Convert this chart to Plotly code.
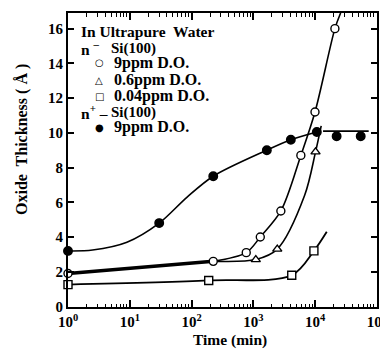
import plotly.graph_objects as go

# ---------------- data ----------------
# n- Si(100), 9 ppm D.O. (open circles)
t_n9 = [1, 225, 770, 1300, 2800, 5900, 10000, 21000]
y_n9 = [1.9, 2.6, 3.1, 4.0, 5.5, 8.7, 11.2, 16.0]
# n- Si(100), 0.6 ppm D.O. (open triangles)
t_n06 = [1100, 2450, 10200]
y_n06 = [2.7, 3.3, 8.9]
# n- Si(100), 0.04 ppm D.O. (open squares)
t_n004 = [1, 190, 4200, 9600]
y_n004 = [1.26, 1.5, 1.8, 3.2]
# n+ Si(100), 9 ppm D.O. (filled circles)
t_p9 = [1, 30, 225, 1660, 4060, 10700, 22400, 55000]
y_p9 = [3.2, 4.8, 7.5, 9.0, 9.6, 10.05, 9.8, 9.8]

# traced guide curves (hand drawn in the original)
curve_shared_t = [1, 225]
curve_shared_y = [1.9, 2.6]
curve_n9_t = [225, 770, 1300, 2800, 5900, 10000, 21000, 26000]
curve_n9_y = [2.6, 3.1, 4.0, 5.5, 8.7, 11.2, 16.0, 16.9]
curve_n06_t = [225, 1100, 2450, 6800, 10200, 12600]
curve_n06_y = [2.6, 2.7, 3.3, 6.4, 8.9, 10.4]
curve_n004_t = [1, 190, 4200, 9600, 15500]
curve_n004_y = [1.26, 1.5, 1.8, 3.2, 4.3]
curve_p9_t = [1, 2.5, 9, 30, 85, 225, 1660, 4060, 10700]
curve_p9_y = [3.2, 3.25, 3.7, 4.8, 6.3, 7.5, 9.0, 9.6, 10.05]
plateau_t = [13500, 74000]
plateau_y = [10.1, 10.1]

x_tickvals = [1, 10, 100, 1000, 10000, 100000]
x_ticktext = ["10<sup>0</sup>", "10<sup>1</sup>", "10<sup>2</sup>",
              "10<sup>3</sup>", "10<sup>4</sup>", "10<sup>5</sup>"]
x_minor = [m * 10 ** d for d in range(5) for m in range(2, 10)]
y_tickvals = [0, 2, 4, 6, 8, 10, 12, 14, 16]

legend_rows = [
    ("○", "9ppm D.O."),
    ("△", "0.6ppm D.O."),
    ("□", "0.04ppm D.O."),
    ("●", "9ppm D.O."),
]

# ---------------- figure ----------------
SERIF = "Liberation Serif"
fig = go.Figure()

def line(t, y, w=1.6):
    fig.add_trace(go.Scatter(x=t, y=y, mode="lines",
                             line=dict(color="black", width=w, shape="spline", smoothing=0.9),
                             hoverinfo="skip", showlegend=False, cliponaxis=True))

line(curve_shared_t, curve_shared_y, 3.6)
line(curve_n9_t, curve_n9_y)
line(curve_n06_t, curve_n06_y)
line(curve_n004_t, curve_n004_y, 1.8)
line(curve_p9_t, curve_p9_y)
line(plateau_t, plateau_y, 1.8)

def markers(t, y, symbol, fill, size=8):
    fig.add_trace(go.Scatter(x=t, y=y, mode="markers",
                             marker=dict(symbol=symbol, size=size, color=fill,
                                         line=dict(color="black", width=1.4)),
                             showlegend=False, cliponaxis=False))

markers(t_n9, y_n9, "circle", "white")
markers(t_n06, y_n06, "triangle-up", "white", 8)
markers(t_n004, y_n004, "square", "white", 8)
markers(t_p9, y_p9, "circle", "black", 8.5)

W, H = 380, 349
L, R, T, B = 68, 3, 13, 42
pw, ph = W - L - R, H - T - B

def px(x):
    return (x - L) / pw

def py(y):
    return (H - B - y) / ph

ann = []
def text(x, y, s, size=16, anchor="left"):
    ann.append(dict(x=px(x), y=py(y), xref="paper", yref="paper", text=s,
                    showarrow=False, xanchor=anchor, yanchor="middle",
                    font=dict(family=SERIF, size=size, color="black", weight="bold")))

text(79, 32, "In Ultrapure  Water", 15.5)
text(79, 48, "n <sup>–</sup>", 15.5)
text(109, 48, "Si(100)", 15)
rows_y = [63, 80, 96, 127]
for (sym, lab), yy in zip(legend_rows, rows_y):
    ann.append(dict(x=px(99), y=py(yy), xref="paper", yref="paper", text=sym,
                    showarrow=False, xanchor="center", yanchor="middle",
                    font=dict(family="DejaVu Sans", size=10, color="black")))
    text(112, yy, lab)
text(79, 112, "n<sup>+</sup> –", 15.5)
text(109, 112, "Si(100)", 15)

# axis titles
ann.append(dict(x=px(22), y=py(140), xref="paper", yref="paper",
                text="Oxide  Thickness ( Å )", textangle=-90, showarrow=False,
                xanchor="center", yanchor="middle",
                font=dict(family=SERIF, size=16, color="black", weight="bold")))
text(230, 340, "Time (min)", 15.5, "center")

axis_common = dict(showline=True, linecolor="black", mirror="allticks",
                   ticks="inside", tickcolor="black", showgrid=False,
                   zeroline=False, automargin=False,
                   tickfont=dict(family=SERIF, size=15, color="black", weight="bold"))

fig.update_layout(
    width=W, height=H, margin=dict(l=L, r=R, t=T, b=B),
    paper_bgcolor="white", plot_bgcolor="white",
    template=None, showlegend=False,
    annotations=ann,
    xaxis=dict(type="log", range=[0, 5.004], tickvals=x_tickvals, ticktext=x_ticktext,
               ticklabeloverflow="allow",
               linewidth=2, ticklen=7, tickwidth=1.5,
               minor=dict(tickvals=x_minor, ticks="inside", ticklen=3.5,
                          tickwidth=1, tickcolor="black"),
               **axis_common),
    yaxis=dict(range=[-0.03, 16.9], tickvals=y_tickvals,
               linewidth=2, ticklen=6, tickwidth=1.5, **axis_common),
)

fig.write_html("out.html")
